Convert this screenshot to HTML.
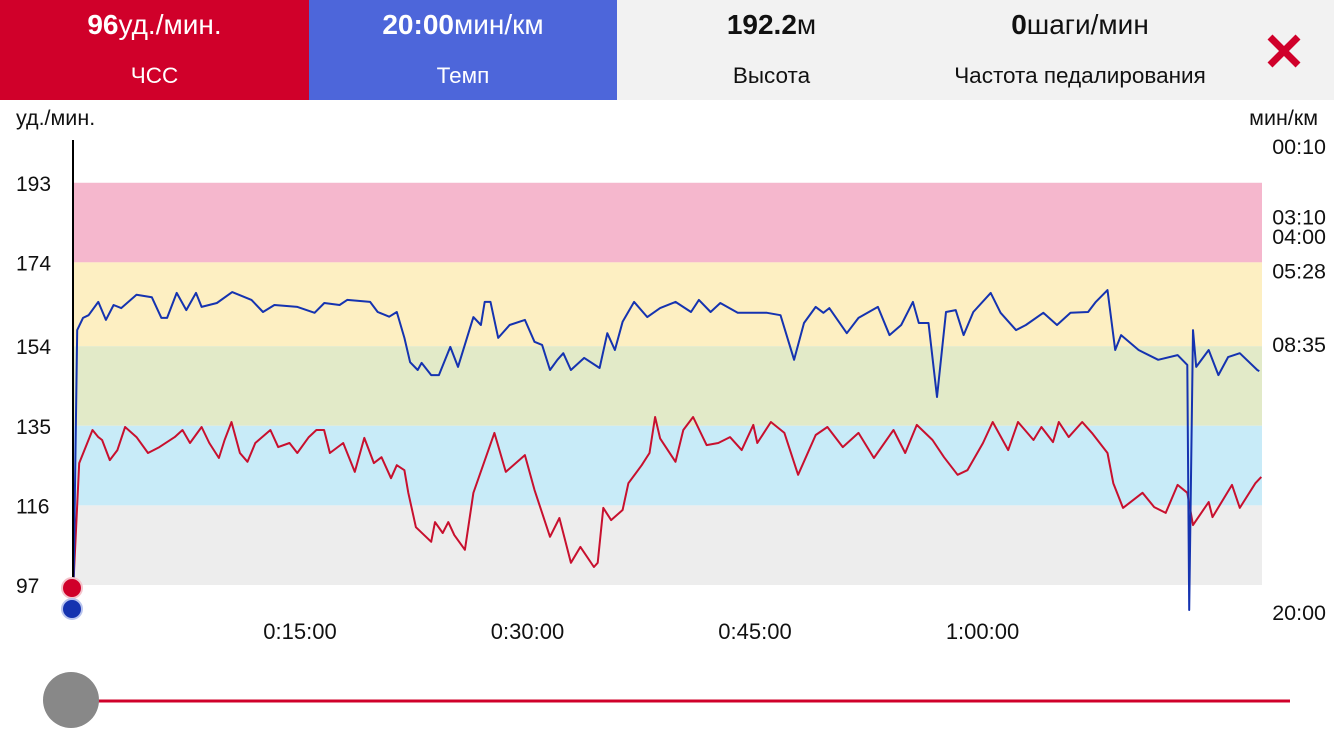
<!DOCTYPE html>
<html><head><meta charset="utf-8">
<style>
html,body{margin:0;padding:0;width:1334px;height:750px;overflow:hidden;background:#fff;font-family:"Liberation Sans","DejaVu Sans",sans-serif;}
.tab{position:absolute;top:0;height:100px;text-align:center;}
.tab .v{position:absolute;left:0;right:0;top:9px;font-size:28px;}
.tab .v b{font-weight:bold}
.tab .l{position:absolute;left:0;right:0;top:63px;font-size:22.5px;}
</style></head><body>
<div class="tab" style="left:0;width:309px;background:#d0002a;color:#fff"><div class="v"><b>96</b>уд./мин.</div><div class="l">ЧСС</div></div>
<div class="tab" style="left:309px;width:308px;background:#4d66da;color:#fff"><div class="v"><b>20:00</b>мин/км</div><div class="l">Темп</div></div>
<div class="tab" style="left:617px;width:309px;background:#f2f2f2;color:#111"><div class="v"><b>192.2</b>м</div><div class="l">Высота</div></div>
<div class="tab" style="left:926px;width:308px;background:#f2f2f2;color:#111"><div class="v"><b>0</b>шаги/мин</div><div class="l">Частота педалирования</div></div>
<div class="tab" style="left:1234px;width:100px;background:#f2f2f2"></div>
<svg style="position:absolute;left:1266px;top:33px" width="36" height="36" viewBox="0 0 36 36"><path d="M4 4L32 32M32 4L4 32" stroke="#d0002a" stroke-width="7"/></svg>

<svg id="chart" width="1334" height="750" style="position:absolute;left:0;top:0;pointer-events:none"></svg>

<script>
const hrTimes=[0,0.08,0.44,1.32,1.70,1.95,2.46,2.96,3.47,4.22,4.98,5.73,6.74,7.25,7.75,8.51,9.02,9.65,10.03,10.48,11.04,11.54,12.05,13.05,13.56,14.31,14.82,15.58,16.08,16.59,16.97,17.85,18.61,19.24,19.87,20.37,21,21.38,21.88,22.14,22.64,23.65,23.9,24.41,24.78,25.17,25.87,26.43,27.82,28.57,29.83,30.46,31.48,32.1,32.86,33.49,34.38,34.63,35,35.51,36.27,36.65,37.53,38.04,38.41,38.74,39.76,40.27,40.92,41.81,42.58,43.35,44.12,44.89,45.15,46.05,46.94,47.84,49,49.77,50.79,51.82,52.84,54.13,54.9,55.67,56.7,57.46,58.36,59,60.03,60.67,61.69,62.34,63.36,63.88,64.65,65.03,65.68,66.57,67.21,68.24,68.62,69.26,70.55,71.32,72.08,72.86,73.5,73.88,74.91,75.16,76.45,76.96,77.99,78.38];
const hrValues=[97,98.7,126.1,134,132.3,131.6,126.8,129.2,134.7,132.3,128.5,129.9,132.3,134,130.9,134.7,130.9,127.3,131.6,135.9,128.5,126.4,130.9,134,129.9,130.9,128.5,132.3,134,134,128.5,130.9,124,132.1,126.1,127.5,122.5,125.6,124.4,119,110.8,107.3,112,109.4,112,108.9,105.4,119,133.3,124,128,119.7,108.5,113,102.3,106.1,101.3,102.3,115.4,112.5,114.9,121.3,125.6,128.5,137.1,132,126.4,134,137.1,130.4,130.9,132.3,129.2,135.2,130.9,135.9,133.3,123.3,132.8,134.7,129.9,133.3,127.3,134,128.5,135.2,131.6,127.5,123.3,124.4,130.9,135.9,129.2,135.9,131.6,134.7,131.1,135.9,132.3,135.9,133.3,128.5,121.3,115.4,119,115.6,114.2,120.9,119,111.3,116.8,113.2,120.9,115.4,121.3,122.8];
const paceTimes=[0,0.08,0.31,0.69,1.06,1.70,2.20,2.71,3.21,4.22,5.23,5.86,6.24,6.87,7.50,8.14,8.51,9.52,10.53,11.80,12.56,13.31,14.83,15.96,16.60,17.61,18.11,19.62,20.12,20.88,21.38,21.88,22.26,22.76,23.02,23.65,24.16,24.91,25.42,26.43,26.93,27.18,27.56,28.07,28.82,29.83,30.46,30.96,31.48,31.97,32.36,32.86,33.74,34.75,35.26,35.76,36.27,37.03,37.90,38.74,39.76,40.78,41.30,42.07,42.71,43.86,45.79,46.68,47.58,48.23,49,49.51,49.90,51.05,51.82,53.10,53.87,54.64,55.41,55.80,56.44,57,57.59,58.23,58.75,59.39,60.54,61.19,62.21,62.86,64.01,64.91,65.80,66.96,67.47,68.24,68.75,69.14,70.29,71.58,72.86,73.50,73.63,73.88,74.09,74.91,75.55,76.19,76.96,78.12,78.25];
const paceValues=[1200,1113,480,449,442,408,454,416,424,390,396,449,449,385,429,385,421,411,383,403,434,416,421,436,411,416,403,408,434,446,434,500,562,582,564,595,595,523,574,447,467,408,408,500,467,454,510,518,582,556,539,582,551,577,488,531,459,408,447,424,408,434,403,434,411,436,436,442,556,462,421,436,424,488,449,421,493,467,408,462,462,651,434,429,493,434,385,436,480,467,436,467,436,434,408,378,531,493,531,556,544,569,1195,480,574,531,595,549,539,582,585];
const hrTicks=[193,174,154,135,116,97];
const paceTickLabels=["00:10","03:10","04:00","05:28","08:35","20:00"];
const paceTickSecs=[10,190,240,328,515,1200];
const timeTicks=[15,30,45,60];
const timeTickLabels=["0:15:00","0:30:00","0:45:00","1:00:00"];
const zoneBounds=[193,174,154,135,116,97];
const zoneColors=["#f5b7cd","#fdefc2","#e2eac8","#c8ebf8","#ededed"];

const NS="http://www.w3.org/2000/svg";
const svg=document.getElementById('chart');
const X0=72.5,PXMIN=15.167,XEND=1262;
const xS=t=>X0+t*PXMIN;
const yHR=v=>585-(v-97)*4.19;
const yPace=s=>146+(s-10)*0.3916;
function mk(tag,attrs){const e=document.createElementNS(NS,tag);for(const k in attrs)e.setAttribute(k,attrs[k]);svg.appendChild(e);return e;}

for(let i=0;i<zoneColors.length;i++){
  const y1=yHR(zoneBounds[i]),y2=yHR(zoneBounds[i+1]);
  const r=mk('rect',{x:X0,y:y1,width:XEND-X0,height:y2-y1,fill:zoneColors[i]});
  
  
}
hrTicks.forEach(v=>{
  const t=mk('text',{x:16,y:yHR(v)+8,'font-size':21,fill:'#111'});t.textContent=v;
  
  
});
paceTickLabels.forEach((l,i)=>{
  const t=mk('text',{x:1326,y:yPace(paceTickSecs[i])+8,'font-size':21.5,fill:'#111','text-anchor':'end'});t.textContent=l;
  
  
});
timeTicks.forEach((m,i)=>{
  const t=mk('text',{x:xS(m),y:639,'font-size':22,fill:'#111','text-anchor':'middle'});t.textContent=timeTickLabels[i];
  
  
});
let t1=mk('text',{x:16,y:125,'font-size':21.5,fill:'#111'});t1.textContent='уд./мин.';


let t2=mk('text',{x:1318,y:125,'font-size':21.5,fill:'#111','text-anchor':'end'});t2.textContent='мин/км';



const hrPts=hrTimes.map((t,i)=>xS(t).toFixed(1)+','+yHR(hrValues[i]).toFixed(1)).join(' ');
const hl=mk('polyline',{points:hrPts,fill:'none',stroke:'#c8102e','stroke-width':2,'stroke-linejoin':'round'});


const pPts=paceTimes.map((t,i)=>xS(t).toFixed(1)+','+yPace(paceValues[i]).toFixed(1)).join(' ');
const pl=mk('polyline',{points:pPts,fill:'none',stroke:'#1533b0','stroke-width':2,'stroke-linejoin':'round'});



const cl=mk('line',{x1:73,y1:140,x2:73,y2:600,stroke:'#000','stroke-width':2});


const rd=mk('circle',{cx:72,cy:588,r:10,fill:'#d0002a',stroke:'#f3c4cc','stroke-width':2});


const bd=mk('circle',{cx:72,cy:609,r:10,fill:'#1533b0',stroke:'#b9c4ee','stroke-width':2});



const tr=mk('line',{x1:95,y1:701,x2:1290,y2:701,stroke:'#d0002a','stroke-width':3});


const th=mk('circle',{cx:71,cy:700,r:28,fill:'#888'});


</script>
</body></html>
